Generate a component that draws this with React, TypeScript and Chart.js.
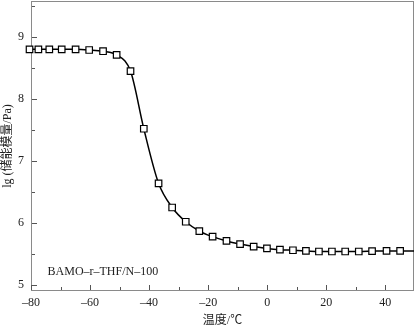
import React, { useEffect, useRef } from "react";
import { Chart, registerables } from "chart.js";

Chart.register(...registerables);

// Data
const temperatures = [-80.5, -77.5, -73.8, -69.6, -64.9, -60.3, -55.6, -51.0, -46.3, -41.8, -36.8, -32.2, -27.6, -23.0, -18.5, -13.8, -9.2, -4.6, -0.1, 4.3, 8.7, 13.1, 17.5, 21.9, 26.4, 31.0, 35.5, 40.4, 45.0, 49.7];
const lgModulus = [8.80, 8.80, 8.80, 8.80, 8.80, 8.79, 8.77, 8.71, 8.45, 7.52, 6.64, 6.25, 6.02, 5.87, 5.78, 5.71, 5.66, 5.62, 5.59, 5.57, 5.56, 5.55, 5.54, 5.54, 5.54, 5.54, 5.545, 5.55, 5.55, 5.55];
// last value is the continuation of the curve to the frame edge (no marker)
const markerCount = 29;

const xMajorTicks = [-80, -60, -40, -20, 0, 20, 40];
const xMinorTicks = [-70, -50, -30, -10, 10, 30];
const yMajorTicks = [5, 6, 7, 8, 9];
const yMinorTicks = [5.5, 6.5, 7.5, 8.5, 9.5];

const xTitle = "温度/℃";
const yTitle = "lg (储能模量/Pa)";
const sampleLabel = "BAMO–r–THF/N–100";
const sampleLabelAt = { x: -74.4, y: 5.21 };

const FONT = "'Liberation Serif', 'Noto Sans CJK SC', serif";
const FRAME = "#8a8a8a";
const TEXT = "#222";

const fmt = (v: number) => String(v).replace("-", "–");

const noPad = (s: any) => {
  s.paddingTop = 0;
  s.paddingBottom = 0;
  s.paddingLeft = 0;
  s.paddingRight = 0;
};

const framePlugin = {
  id: "frameTicks",
  beforeDatasetsDraw(chart: any) {
    const { ctx, chartArea, scales } = chart;
    const { left, right, top, bottom } = chartArea;
    ctx.save();
    ctx.strokeStyle = FRAME;
    ctx.lineWidth = 1;
    ctx.strokeRect(left + 0.5, top + 0.5, right - left - 1, bottom - top - 1);
    ctx.strokeStyle = "#555";
    const xs = scales.x, ys = scales.y;
    const drawX = (vals: number[], len: number) => {
      vals.forEach((v) => {
        const px = Math.round(xs.getPixelForValue(v)) + 0.5;
        ctx.beginPath();
        ctx.moveTo(px, bottom - 1);
        ctx.lineTo(px, bottom - 1 - len);
        ctx.stroke();
      });
    };
    const drawY = (vals: number[], len: number) => {
      vals.forEach((v) => {
        const py = Math.round(ys.getPixelForValue(v)) + 0.5;
        ctx.beginPath();
        ctx.moveTo(left + 1, py);
        ctx.lineTo(left + 1 + len, py);
        ctx.stroke();
      });
    };
    drawX(xMajorTicks, 5);
    drawX(xMinorTicks, 3);
    drawY(yMajorTicks, 5);
    drawY(yMinorTicks, 3);
    ctx.fillStyle = TEXT;
    ctx.font = `12px ${FONT}`;
    ctx.textAlign = "left";
    ctx.textBaseline = "middle";
    ctx.fillText(sampleLabel, xs.getPixelForValue(sampleLabelAt.x), ys.getPixelForValue(sampleLabelAt.y));
    ctx.restore();
  },
};

export default function App() {
  const ref = useRef<HTMLCanvasElement | null>(null);
  useEffect(() => {
    if (!ref.current) return;
    const chart = new Chart(ref.current, {
      type: "line",
      data: {
        datasets: [
          {
            data: temperatures.map((t, i) => ({ x: t, y: lgModulus[i] })),
            borderColor: "#000",
            borderWidth: 1.5,
            cubicInterpolationMode: "monotone",
            pointStyle: "rect",
            pointRadius: (c: any) => (c.dataIndex < markerCount ? 4.6 : 0),
            pointBackgroundColor: "#fff",
            pointBorderColor: "#000",
            pointBorderWidth: 1.2,
            clip: false as any,
          },
        ],
      },
      options: {
        animation: false,
        responsive: false,
        layout: { autoPadding: false, padding: { top: 1, right: 1, left: 0, bottom: 0 } },
        plugins: { legend: { display: false }, tooltip: { enabled: false } },
        scales: {
          x: {
            type: "linear",
            min: -80,
            max: 49.7,
            afterBuildTicks: (s: any) => {
              s.ticks = xMajorTicks.map((v) => ({ value: v }));
            },
            afterFit: (s: any) => {
              s.height = 36;
              noPad(s);
            },
            grid: { display: false, drawTicks: false },
            border: { display: false },
            ticks: {
              padding: 5,
              color: TEXT,
              font: { family: FONT, size: 12 },
              callback: (v: any) => fmt(Number(v)),
              maxRotation: 0,
            },
            title: {
              display: true,
              text: xTitle,
              color: TEXT,
              font: { family: FONT, size: 12 },
              padding: { top: 0, bottom: -1 },
            },
          },
          y: {
            type: "linear",
            min: 4.903,
            max: 9.58,
            afterBuildTicks: (s: any) => {
              s.ticks = yMajorTicks.map((v) => ({ value: v }));
            },
            afterFit: (s: any) => {
              s.width = 31;
              noPad(s);
            },
            grid: { display: false, drawTicks: false },
            border: { display: false },
            ticks: {
              padding: 7,
              color: TEXT,
              font: { family: FONT, size: 12 },
              callback: (v: any) => fmt(Number(v)),
            },
            title: {
              display: true,
              text: yTitle,
              color: TEXT,
              font: { family: FONT, size: 12 },
              padding: { top: 1, bottom: 0 },
            },
          },
        },
      },
      plugins: [framePlugin],
    } as any);
    return () => chart.destroy();
  }, []);
  return (
    <div style={{ position: "fixed", left: 0, top: 0, width: 415, height: 327, background: "#fff" }}>
      <canvas ref={ref} width={415} height={327} style={{ width: 415, height: 327 }} />
    </div>
  );
}
